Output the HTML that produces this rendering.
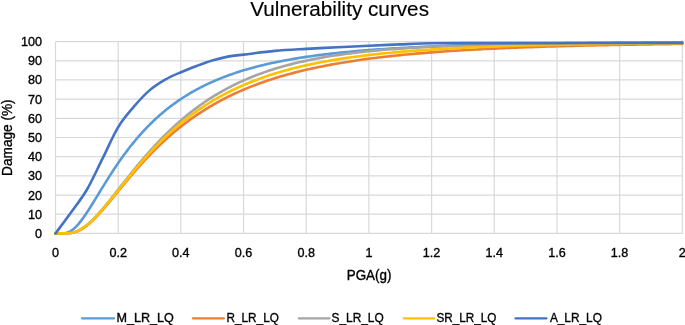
<!DOCTYPE html>
<html><head><meta charset="utf-8"><style>
html,body{margin:0;padding:0;background:#fff;width:685px;height:325px;overflow:hidden;}
svg{display:block;will-change:transform;}
text{font-family:"Liberation Sans", sans-serif;stroke:#000;stroke-width:0.35px;}
</style></head><body>
<svg width="685" height="325" viewBox="0 0 685 325" font-family='"Liberation Sans", sans-serif' fill="#000"><line x1="55.50" y1="233.40" x2="682.30" y2="233.40" stroke="#d9d9d9" stroke-width="1.2"/>
<line x1="55.50" y1="214.22" x2="682.30" y2="214.22" stroke="#d9d9d9" stroke-width="1.2"/>
<line x1="55.50" y1="195.04" x2="682.30" y2="195.04" stroke="#d9d9d9" stroke-width="1.2"/>
<line x1="55.50" y1="175.86" x2="682.30" y2="175.86" stroke="#d9d9d9" stroke-width="1.2"/>
<line x1="55.50" y1="156.68" x2="682.30" y2="156.68" stroke="#d9d9d9" stroke-width="1.2"/>
<line x1="55.50" y1="137.50" x2="682.30" y2="137.50" stroke="#d9d9d9" stroke-width="1.2"/>
<line x1="55.50" y1="118.32" x2="682.30" y2="118.32" stroke="#d9d9d9" stroke-width="1.2"/>
<line x1="55.50" y1="99.14" x2="682.30" y2="99.14" stroke="#d9d9d9" stroke-width="1.2"/>
<line x1="55.50" y1="79.96" x2="682.30" y2="79.96" stroke="#d9d9d9" stroke-width="1.2"/>
<line x1="55.50" y1="60.78" x2="682.30" y2="60.78" stroke="#d9d9d9" stroke-width="1.2"/>
<line x1="55.50" y1="41.60" x2="682.30" y2="41.60" stroke="#d9d9d9" stroke-width="1.2"/>
<line x1="55.50" y1="41.60" x2="55.50" y2="233.40" stroke="#d9d9d9" stroke-width="1.2"/>
<line x1="118.18" y1="41.60" x2="118.18" y2="233.40" stroke="#d9d9d9" stroke-width="1.2"/>
<line x1="180.86" y1="41.60" x2="180.86" y2="233.40" stroke="#d9d9d9" stroke-width="1.2"/>
<line x1="243.54" y1="41.60" x2="243.54" y2="233.40" stroke="#d9d9d9" stroke-width="1.2"/>
<line x1="306.22" y1="41.60" x2="306.22" y2="233.40" stroke="#d9d9d9" stroke-width="1.2"/>
<line x1="368.90" y1="41.60" x2="368.90" y2="233.40" stroke="#d9d9d9" stroke-width="1.2"/>
<line x1="431.58" y1="41.60" x2="431.58" y2="233.40" stroke="#d9d9d9" stroke-width="1.2"/>
<line x1="494.26" y1="41.60" x2="494.26" y2="233.40" stroke="#d9d9d9" stroke-width="1.2"/>
<line x1="556.94" y1="41.60" x2="556.94" y2="233.40" stroke="#d9d9d9" stroke-width="1.2"/>
<line x1="619.62" y1="41.60" x2="619.62" y2="233.40" stroke="#d9d9d9" stroke-width="1.2"/>
<line x1="682.30" y1="41.60" x2="682.30" y2="233.40" stroke="#d9d9d9" stroke-width="1.2"/>
<path d="M55.50,233.40 L56.28,233.40 L57.07,233.40 L57.85,233.40 L58.63,233.40 L59.42,233.40 L60.20,233.40 L60.98,233.39 L61.77,233.37 L62.55,233.34 L63.34,233.29 L64.12,233.22 L64.90,233.11 L65.69,232.97 L66.47,232.78 L67.25,232.56 L68.04,232.28 L68.82,231.96 L69.60,231.59 L70.39,231.16 L71.17,230.69 L71.95,230.16 L72.74,229.59 L73.52,228.96 L74.30,228.29 L75.09,227.57 L75.87,226.81 L76.65,226.01 L77.44,225.16 L78.22,224.28 L79.00,223.36 L79.79,222.40 L80.57,221.42 L81.36,220.40 L82.14,219.35 L82.92,218.28 L83.71,217.19 L84.49,216.07 L85.27,214.93 L86.06,213.77 L86.84,212.59 L87.62,211.40 L88.41,210.19 L89.19,208.97 L89.97,207.74 L90.76,206.50 L91.54,205.25 L92.32,203.99 L93.11,202.73 L93.89,201.46 L94.67,200.18 L95.46,198.91 L96.24,197.62 L97.03,196.34 L97.81,195.06 L98.59,193.77 L99.38,192.49 L100.16,191.21 L100.94,189.93 L101.73,188.65 L102.51,187.38 L103.29,186.11 L104.08,184.84 L104.86,183.58 L105.64,182.32 L106.43,181.06 L107.21,179.82 L107.99,178.58 L108.78,177.34 L109.56,176.11 L110.34,174.89 L111.13,173.68 L111.91,172.47 L112.70,171.27 L113.48,170.08 L114.26,168.89 L115.05,167.72 L115.83,166.55 L116.61,165.39 L117.40,164.24 L118.18,163.10 L118.96,161.97 L119.75,160.84 L120.53,159.73 L121.31,158.62 L122.10,157.52 L122.88,156.44 L123.66,155.36 L124.45,154.29 L125.23,153.23 L126.02,152.17 L126.80,151.13 L127.58,150.10 L128.37,149.07 L129.15,148.06 L129.93,147.05 L130.72,146.06 L131.50,145.07 L132.28,144.09 L133.07,143.12 L133.85,142.16 L134.63,141.21 L135.42,140.27 L136.20,139.34 L136.98,138.41 L137.77,137.50 L138.55,136.59 L139.33,135.69 L140.12,134.81 L140.90,133.93 L141.69,133.05 L142.47,132.19 L143.25,131.34 L144.04,130.49 L144.82,129.65 L145.60,128.82 L146.39,128.00 L147.17,127.19 L147.95,126.39 L148.74,125.59 L149.52,124.80 L150.30,124.02 L151.09,123.25 L151.87,122.48 L152.65,121.73 L153.44,120.98 L154.22,120.23 L155.00,119.50 L155.79,118.77 L156.57,118.05 L157.35,117.34 L158.14,116.64 L158.92,115.94 L159.71,115.25 L160.49,114.56 L161.27,113.89 L162.06,113.22 L162.84,112.56 L163.62,111.90 L164.41,111.25 L165.19,110.61 L165.97,109.97 L166.76,109.34 L167.54,108.72 L168.32,108.10 L169.11,107.49 L169.89,106.89 L170.67,106.29 L171.46,105.70 L172.24,105.11 L173.02,104.53 L173.81,103.96 L174.59,103.39 L175.38,102.83 L176.16,102.27 L176.94,101.72 L177.73,101.17 L178.51,100.63 L179.29,100.10 L180.08,99.57 L180.86,99.05 L181.64,98.53 L182.43,98.02 L183.21,97.51 L183.99,97.00 L184.78,96.51 L185.56,96.02 L186.34,95.53 L187.13,95.05 L187.91,94.57 L188.69,94.09 L189.48,93.63 L190.26,93.16 L191.05,92.70 L191.83,92.25 L192.61,91.80 L193.40,91.36 L194.18,90.92 L194.96,90.48 L195.75,90.05 L196.53,89.62 L197.31,89.20 L198.10,88.78 L198.88,88.36 L199.66,87.95 L200.45,87.55 L201.23,87.14 L202.01,86.75 L202.80,86.35 L203.58,85.96 L204.37,85.57 L205.15,85.19 L205.93,84.81 L206.72,84.44 L207.50,84.07 L208.28,83.70 L209.07,83.33 L209.85,82.97 L210.63,82.62 L211.42,82.26 L212.20,81.91 L212.98,81.57 L213.77,81.22 L214.55,80.88 L215.33,80.55 L216.12,80.21 L216.90,79.88 L217.68,79.56 L218.47,79.23 L219.25,78.91 L220.03,78.59 L220.82,78.28 L221.60,77.97 L222.39,77.66 L223.17,77.35 L223.95,77.05 L224.74,76.75 L225.52,76.46 L226.30,76.16 L227.09,75.87 L227.87,75.58 L228.65,75.30 L229.44,75.01 L230.22,74.73 L231.00,74.46 L231.79,74.18 L232.57,73.91 L233.35,73.64 L234.14,73.37 L234.92,73.11 L235.71,72.85 L236.49,72.59 L237.27,72.33 L238.06,72.08 L238.84,71.82 L239.62,71.57 L240.41,71.33 L241.19,71.08 L241.97,70.84 L242.76,70.60 L243.54,70.36 L246.67,69.43 L249.81,68.53 L252.94,67.67 L256.08,66.83 L259.21,66.03 L262.34,65.26 L265.48,64.51 L268.61,63.79 L271.75,63.10 L274.88,62.43 L278.01,61.78 L281.15,61.16 L284.28,60.56 L287.42,59.98 L290.55,59.41 L293.68,58.87 L296.82,58.35 L299.95,57.84 L303.09,57.36 L306.22,56.88 L309.35,56.43 L312.49,55.99 L315.62,55.56 L318.76,55.15 L321.89,54.75 L325.02,54.36 L328.16,53.99 L331.29,53.63 L334.43,53.28 L337.56,52.94 L340.69,52.62 L343.83,52.30 L346.96,51.99 L350.10,51.70 L353.23,51.41 L356.36,51.13 L359.50,50.86 L362.63,50.60 L365.77,50.35 L368.90,50.10 L372.03,49.86 L375.17,49.63 L378.30,49.41 L381.44,49.19 L384.57,48.98 L387.70,48.78 L390.84,48.58 L393.97,48.39 L397.11,48.21 L400.24,48.02 L403.37,47.85 L406.51,47.68 L409.64,47.51 L412.78,47.35 L415.91,47.20 L419.04,47.05 L422.18,46.90 L425.31,46.76 L428.45,46.62 L431.58,46.49 L434.71,46.36 L437.85,46.23 L440.98,46.11 L444.12,45.99 L447.25,45.87 L450.38,45.76 L453.52,45.65 L456.65,45.54 L459.79,45.44 L462.92,45.34 L466.05,45.24 L469.19,45.15 L472.32,45.05 L475.46,44.96 L478.59,44.87 L481.72,44.79 L484.86,44.71 L487.99,44.63 L491.13,44.55 L494.26,44.47 L497.39,44.40 L500.53,44.32 L503.66,44.25 L506.80,44.18 L509.93,44.12 L513.06,44.05 L516.20,43.99 L519.33,43.93 L522.47,43.87 L525.60,43.81 L528.73,43.75 L531.87,43.70 L535.00,43.64 L538.14,43.59 L541.27,43.54 L544.40,43.49 L547.54,43.44 L550.67,43.39 L553.81,43.35 L556.94,43.30 L560.07,43.26 L563.21,43.21 L566.34,43.17 L569.48,43.13 L572.61,43.09 L575.74,43.05 L578.88,43.02 L582.01,42.98 L585.15,42.94 L588.28,42.91 L591.41,42.87 L594.55,42.84 L597.68,42.81 L600.82,42.78 L603.95,42.75 L607.08,42.72 L610.22,42.69 L613.35,42.66 L616.49,42.63 L619.62,42.60 L622.75,42.58 L625.89,42.55 L629.02,42.52 L632.16,42.50 L635.29,42.47 L638.42,42.45 L641.56,42.43 L644.69,42.41 L647.83,42.38 L650.96,42.36 L654.09,42.34 L657.23,42.32 L660.36,42.30 L663.50,42.28 L666.63,42.26 L669.76,42.24 L672.90,42.22 L676.03,42.21 L679.17,42.19 L682.30,42.17" fill="none" stroke="#5B9BD5" stroke-width="2.6" stroke-linejoin="round" stroke-linecap="round"/>
<path d="M55.50,233.40 L56.28,233.40 L57.07,233.40 L57.85,233.40 L58.63,233.40 L59.42,233.40 L60.20,233.40 L60.98,233.40 L61.77,233.40 L62.55,233.40 L63.34,233.39 L64.12,233.39 L64.90,233.38 L65.69,233.36 L66.47,233.34 L67.25,233.31 L68.04,233.26 L68.82,233.21 L69.60,233.13 L70.39,233.04 L71.17,232.93 L71.95,232.80 L72.74,232.65 L73.52,232.47 L74.30,232.27 L75.09,232.05 L75.87,231.80 L76.65,231.53 L77.44,231.22 L78.22,230.90 L79.00,230.54 L79.79,230.16 L80.57,229.75 L81.36,229.32 L82.14,228.86 L82.92,228.38 L83.71,227.87 L84.49,227.34 L85.27,226.78 L86.06,226.20 L86.84,225.60 L87.62,224.98 L88.41,224.33 L89.19,223.67 L89.97,222.99 L90.76,222.29 L91.54,221.57 L92.32,220.83 L93.11,220.08 L93.89,219.31 L94.67,218.53 L95.46,217.73 L96.24,216.93 L97.03,216.10 L97.81,215.27 L98.59,214.42 L99.38,213.57 L100.16,212.70 L100.94,211.83 L101.73,210.94 L102.51,210.05 L103.29,209.15 L104.08,208.24 L104.86,207.33 L105.64,206.41 L106.43,205.49 L107.21,204.56 L107.99,203.62 L108.78,202.69 L109.56,201.74 L110.34,200.80 L111.13,199.85 L111.91,198.90 L112.70,197.95 L113.48,196.99 L114.26,196.04 L115.05,195.08 L115.83,194.13 L116.61,193.17 L117.40,192.21 L118.18,191.25 L118.96,190.30 L119.75,189.34 L120.53,188.39 L121.31,187.43 L122.10,186.48 L122.88,185.53 L123.66,184.58 L124.45,183.64 L125.23,182.69 L126.02,181.75 L126.80,180.81 L127.58,179.87 L128.37,178.94 L129.15,178.01 L129.93,177.08 L130.72,176.16 L131.50,175.24 L132.28,174.32 L133.07,173.41 L133.85,172.50 L134.63,171.59 L135.42,170.69 L136.20,169.79 L136.98,168.90 L137.77,168.01 L138.55,167.13 L139.33,166.25 L140.12,165.37 L140.90,164.50 L141.69,163.63 L142.47,162.77 L143.25,161.91 L144.04,161.06 L144.82,160.21 L145.60,159.37 L146.39,158.53 L147.17,157.70 L147.95,156.87 L148.74,156.05 L149.52,155.23 L150.30,154.42 L151.09,153.61 L151.87,152.81 L152.65,152.01 L153.44,151.21 L154.22,150.43 L155.00,149.64 L155.79,148.86 L156.57,148.09 L157.35,147.32 L158.14,146.56 L158.92,145.80 L159.71,145.05 L160.49,144.30 L161.27,143.56 L162.06,142.82 L162.84,142.09 L163.62,141.36 L164.41,140.64 L165.19,139.93 L165.97,139.21 L166.76,138.51 L167.54,137.80 L168.32,137.11 L169.11,136.42 L169.89,135.73 L170.67,135.05 L171.46,134.37 L172.24,133.70 L173.02,133.03 L173.81,132.37 L174.59,131.71 L175.38,131.06 L176.16,130.41 L176.94,129.76 L177.73,129.13 L178.51,128.49 L179.29,127.86 L180.08,127.24 L180.86,126.62 L181.64,126.00 L182.43,125.39 L183.21,124.79 L183.99,124.18 L184.78,123.59 L185.56,123.00 L186.34,122.41 L187.13,121.82 L187.91,121.24 L188.69,120.67 L189.48,120.10 L190.26,119.53 L191.05,118.97 L191.83,118.41 L192.61,117.86 L193.40,117.31 L194.18,116.77 L194.96,116.23 L195.75,115.69 L196.53,115.16 L197.31,114.63 L198.10,114.11 L198.88,113.59 L199.66,113.07 L200.45,112.56 L201.23,112.05 L202.01,111.54 L202.80,111.04 L203.58,110.55 L204.37,110.05 L205.15,109.57 L205.93,109.08 L206.72,108.60 L207.50,108.12 L208.28,107.65 L209.07,107.18 L209.85,106.71 L210.63,106.25 L211.42,105.79 L212.20,105.33 L212.98,104.88 L213.77,104.43 L214.55,103.99 L215.33,103.54 L216.12,103.11 L216.90,102.67 L217.68,102.24 L218.47,101.81 L219.25,101.39 L220.03,100.96 L220.82,100.55 L221.60,100.13 L222.39,99.72 L223.17,99.31 L223.95,98.90 L224.74,98.50 L225.52,98.10 L226.30,97.71 L227.09,97.31 L227.87,96.92 L228.65,96.54 L229.44,96.15 L230.22,95.77 L231.00,95.39 L231.79,95.02 L232.57,94.65 L233.35,94.28 L234.14,93.91 L234.92,93.55 L235.71,93.18 L236.49,92.83 L237.27,92.47 L238.06,92.12 L238.84,91.77 L239.62,91.42 L240.41,91.08 L241.19,90.73 L241.97,90.40 L242.76,90.06 L243.54,89.73 L246.67,88.41 L249.81,87.14 L252.94,85.91 L256.08,84.72 L259.21,83.56 L262.34,82.43 L265.48,81.34 L268.61,80.29 L271.75,79.26 L274.88,78.27 L278.01,77.30 L281.15,76.36 L284.28,75.45 L287.42,74.57 L290.55,73.72 L293.68,72.88 L296.82,72.08 L299.95,71.29 L303.09,70.53 L306.22,69.79 L309.35,69.08 L312.49,68.38 L315.62,67.70 L318.76,67.05 L321.89,66.41 L325.02,65.79 L328.16,65.19 L331.29,64.60 L334.43,64.03 L337.56,63.48 L340.69,62.94 L343.83,62.42 L346.96,61.91 L350.10,61.42 L353.23,60.94 L356.36,60.47 L359.50,60.02 L362.63,59.58 L365.77,59.15 L368.90,58.73 L372.03,58.32 L375.17,57.93 L378.30,57.54 L381.44,57.17 L384.57,56.80 L387.70,56.45 L390.84,56.11 L393.97,55.77 L397.11,55.44 L400.24,55.12 L403.37,54.81 L406.51,54.51 L409.64,54.22 L412.78,53.93 L415.91,53.66 L419.04,53.38 L422.18,53.12 L425.31,52.86 L428.45,52.61 L431.58,52.37 L434.71,52.13 L437.85,51.90 L440.98,51.67 L444.12,51.45 L447.25,51.24 L450.38,51.03 L453.52,50.82 L456.65,50.63 L459.79,50.43 L462.92,50.24 L466.05,50.06 L469.19,49.88 L472.32,49.70 L475.46,49.53 L478.59,49.37 L481.72,49.20 L484.86,49.05 L487.99,48.89 L491.13,48.74 L494.26,48.59 L497.39,48.45 L500.53,48.31 L503.66,48.17 L506.80,48.04 L509.93,47.91 L513.06,47.78 L516.20,47.66 L519.33,47.54 L522.47,47.42 L525.60,47.30 L528.73,47.19 L531.87,47.08 L535.00,46.97 L538.14,46.87 L541.27,46.77 L544.40,46.67 L547.54,46.57 L550.67,46.47 L553.81,46.38 L556.94,46.29 L560.07,46.20 L563.21,46.11 L566.34,46.03 L569.48,45.95 L572.61,45.87 L575.74,45.79 L578.88,45.71 L582.01,45.63 L585.15,45.56 L588.28,45.49 L591.41,45.42 L594.55,45.35 L597.68,45.28 L600.82,45.22 L603.95,45.15 L607.08,45.09 L610.22,45.03 L613.35,44.97 L616.49,44.91 L619.62,44.85 L622.75,44.80 L625.89,44.74 L629.02,44.69 L632.16,44.63 L635.29,44.58 L638.42,44.53 L641.56,44.48 L644.69,44.44 L647.83,44.39 L650.96,44.34 L654.09,44.30 L657.23,44.25 L660.36,44.21 L663.50,44.17 L666.63,44.13 L669.76,44.09 L672.90,44.05 L676.03,44.01 L679.17,43.97 L682.30,43.94" fill="none" stroke="#ED7D31" stroke-width="2.6" stroke-linejoin="round" stroke-linecap="round"/>
<path d="M55.50,233.40 L56.28,233.40 L57.07,233.40 L57.85,233.40 L58.63,233.40 L59.42,233.40 L60.20,233.40 L60.98,233.40 L61.77,233.40 L62.55,233.40 L63.34,233.39 L64.12,233.39 L64.90,233.38 L65.69,233.36 L66.47,233.33 L67.25,233.29 L68.04,233.24 L68.82,233.17 L69.60,233.09 L70.39,232.98 L71.17,232.86 L71.95,232.71 L72.74,232.54 L73.52,232.34 L74.30,232.12 L75.09,231.87 L75.87,231.60 L76.65,231.30 L77.44,230.97 L78.22,230.61 L79.00,230.23 L79.79,229.82 L80.57,229.39 L81.36,228.93 L82.14,228.44 L82.92,227.93 L83.71,227.40 L84.49,226.84 L85.27,226.25 L86.06,225.65 L86.84,225.02 L87.62,224.38 L88.41,223.71 L89.19,223.02 L89.97,222.32 L90.76,221.59 L91.54,220.85 L92.32,220.09 L93.11,219.32 L93.89,218.53 L94.67,217.73 L95.46,216.91 L96.24,216.08 L97.03,215.23 L97.81,214.38 L98.59,213.51 L99.38,212.63 L100.16,211.74 L100.94,210.85 L101.73,209.94 L102.51,209.02 L103.29,208.10 L104.08,207.17 L104.86,206.23 L105.64,205.29 L106.43,204.34 L107.21,203.38 L107.99,202.42 L108.78,201.45 L109.56,200.48 L110.34,199.51 L111.13,198.53 L111.91,197.55 L112.70,196.57 L113.48,195.58 L114.26,194.59 L115.05,193.60 L115.83,192.61 L116.61,191.62 L117.40,190.62 L118.18,189.63 L118.96,188.63 L119.75,187.64 L120.53,186.64 L121.31,185.65 L122.10,184.65 L122.88,183.66 L123.66,182.67 L124.45,181.68 L125.23,180.69 L126.02,179.70 L126.80,178.71 L127.58,177.73 L128.37,176.75 L129.15,175.77 L129.93,174.79 L130.72,173.81 L131.50,172.84 L132.28,171.87 L133.07,170.91 L133.85,169.94 L134.63,168.98 L135.42,168.03 L136.20,167.07 L136.98,166.12 L137.77,165.18 L138.55,164.24 L139.33,163.30 L140.12,162.37 L140.90,161.43 L141.69,160.51 L142.47,159.59 L143.25,158.67 L144.04,157.76 L144.82,156.85 L145.60,155.94 L146.39,155.04 L147.17,154.15 L147.95,153.26 L148.74,152.37 L149.52,151.49 L150.30,150.62 L151.09,149.74 L151.87,148.88 L152.65,148.02 L153.44,147.16 L154.22,146.31 L155.00,145.46 L155.79,144.62 L156.57,143.78 L157.35,142.95 L158.14,142.12 L158.92,141.30 L159.71,140.48 L160.49,139.67 L161.27,138.87 L162.06,138.06 L162.84,137.27 L163.62,136.48 L164.41,135.69 L165.19,134.91 L165.97,134.14 L166.76,133.37 L167.54,132.60 L168.32,131.84 L169.11,131.09 L169.89,130.34 L170.67,129.59 L171.46,128.85 L172.24,128.12 L173.02,127.39 L173.81,126.67 L174.59,125.95 L175.38,125.23 L176.16,124.53 L176.94,123.82 L177.73,123.12 L178.51,122.43 L179.29,121.74 L180.08,121.06 L180.86,120.38 L181.64,119.71 L182.43,119.04 L183.21,118.38 L183.99,117.72 L184.78,117.07 L185.56,116.42 L186.34,115.77 L187.13,115.14 L187.91,114.50 L188.69,113.87 L189.48,113.25 L190.26,112.63 L191.05,112.02 L191.83,111.41 L192.61,110.80 L193.40,110.20 L194.18,109.61 L194.96,109.02 L195.75,108.43 L196.53,107.85 L197.31,107.27 L198.10,106.70 L198.88,106.14 L199.66,105.57 L200.45,105.01 L201.23,104.46 L202.01,103.91 L202.80,103.37 L203.58,102.83 L204.37,102.29 L205.15,101.76 L205.93,101.23 L206.72,100.71 L207.50,100.19 L208.28,99.67 L209.07,99.16 L209.85,98.66 L210.63,98.16 L211.42,97.66 L212.20,97.16 L212.98,96.67 L213.77,96.19 L214.55,95.71 L215.33,95.23 L216.12,94.76 L216.90,94.29 L217.68,93.82 L218.47,93.36 L219.25,92.90 L220.03,92.45 L220.82,92.00 L221.60,91.55 L222.39,91.11 L223.17,90.67 L223.95,90.24 L224.74,89.81 L225.52,89.38 L226.30,88.96 L227.09,88.54 L227.87,88.12 L228.65,87.71 L229.44,87.30 L230.22,86.89 L231.00,86.49 L231.79,86.09 L232.57,85.69 L233.35,85.30 L234.14,84.91 L234.92,84.53 L235.71,84.15 L236.49,83.77 L237.27,83.39 L238.06,83.02 L238.84,82.65 L239.62,82.29 L240.41,81.93 L241.19,81.57 L241.97,81.21 L242.76,80.86 L243.54,80.51 L246.67,79.14 L249.81,77.82 L252.94,76.55 L256.08,75.32 L259.21,74.13 L262.34,72.99 L265.48,71.89 L268.61,70.82 L271.75,69.80 L274.88,68.81 L278.01,67.85 L281.15,66.93 L284.28,66.05 L287.42,65.19 L290.55,64.37 L293.68,63.58 L296.82,62.81 L299.95,62.08 L303.09,61.37 L306.22,60.68 L309.35,60.03 L312.49,59.39 L315.62,58.78 L318.76,58.19 L321.89,57.63 L325.02,57.08 L328.16,56.55 L331.29,56.05 L334.43,55.56 L337.56,55.09 L340.69,54.64 L343.83,54.20 L346.96,53.78 L350.10,53.38 L353.23,52.99 L356.36,52.62 L359.50,52.25 L362.63,51.91 L365.77,51.57 L368.90,51.25 L372.03,50.94 L375.17,50.64 L378.30,50.36 L381.44,50.08 L384.57,49.82 L387.70,49.56 L390.84,49.31 L393.97,49.08 L397.11,48.85 L400.24,48.63 L403.37,48.42 L406.51,48.21 L409.64,48.02 L412.78,47.83 L415.91,47.65 L419.04,47.47 L422.18,47.31 L425.31,47.14 L428.45,46.99 L431.58,46.84 L434.71,46.69 L437.85,46.56 L440.98,46.42 L444.12,46.29 L447.25,46.17 L450.38,46.05 L453.52,45.94 L456.65,45.83 L459.79,45.72 L462.92,45.62 L466.05,45.52 L469.19,45.43 L472.32,45.33 L475.46,45.25 L478.59,45.16 L481.72,45.08 L484.86,45.00 L487.99,44.93 L491.13,44.86 L494.26,44.79 L497.39,44.72 L500.53,44.66 L503.66,44.59 L506.80,44.53 L509.93,44.48 L513.06,44.42 L516.20,44.37 L519.33,44.32 L522.47,44.27 L525.60,44.22 L528.73,44.17 L531.87,44.13 L535.00,44.09 L538.14,44.05 L541.27,44.01 L544.40,43.97 L547.54,43.93 L550.67,43.90 L553.81,43.87 L556.94,43.83 L560.07,43.80 L563.21,43.77 L566.34,43.74 L569.48,43.72 L572.61,43.69 L575.74,43.66 L578.88,43.64 L582.01,43.62 L585.15,43.59 L588.28,43.57 L591.41,43.55 L594.55,43.53 L597.68,43.51 L600.82,43.49 L603.95,43.47 L607.08,43.45 L610.22,43.44 L613.35,43.42 L616.49,43.41 L619.62,43.39 L622.75,43.38 L625.89,43.36 L629.02,43.35 L632.16,43.34 L635.29,43.32 L638.42,43.31 L641.56,43.30 L644.69,43.29 L647.83,43.28 L650.96,43.27 L654.09,43.26 L657.23,43.25 L660.36,43.24 L663.50,43.23 L666.63,43.22 L669.76,43.21 L672.90,43.21 L676.03,43.20 L679.17,43.19 L682.30,43.18" fill="none" stroke="#A5A5A5" stroke-width="2.6" stroke-linejoin="round" stroke-linecap="round"/>
<path d="M55.50,233.40 L56.28,233.40 L57.07,233.40 L57.85,233.40 L58.63,233.40 L59.42,233.40 L60.20,233.40 L60.98,233.40 L61.77,233.40 L62.55,233.39 L63.34,233.39 L64.12,233.38 L64.90,233.36 L65.69,233.34 L66.47,233.30 L67.25,233.26 L68.04,233.20 L68.82,233.13 L69.60,233.04 L70.39,232.93 L71.17,232.80 L71.95,232.65 L72.74,232.48 L73.52,232.28 L74.30,232.06 L75.09,231.82 L75.87,231.55 L76.65,231.25 L77.44,230.93 L78.22,230.59 L79.00,230.21 L79.79,229.82 L80.57,229.40 L81.36,228.95 L82.14,228.48 L82.92,227.98 L83.71,227.46 L84.49,226.92 L85.27,226.36 L86.06,225.77 L86.84,225.16 L87.62,224.53 L88.41,223.88 L89.19,223.22 L89.97,222.53 L90.76,221.82 L91.54,221.10 L92.32,220.36 L93.11,219.61 L93.89,218.83 L94.67,218.05 L95.46,217.25 L96.24,216.43 L97.03,215.61 L97.81,214.77 L98.59,213.92 L99.38,213.06 L100.16,212.19 L100.94,211.31 L101.73,210.42 L102.51,209.52 L103.29,208.61 L104.08,207.69 L104.86,206.77 L105.64,205.84 L106.43,204.91 L107.21,203.97 L107.99,203.02 L108.78,202.07 L109.56,201.12 L110.34,200.16 L111.13,199.20 L111.91,198.23 L112.70,197.26 L113.48,196.29 L114.26,195.32 L115.05,194.35 L115.83,193.37 L116.61,192.40 L117.40,191.42 L118.18,190.44 L118.96,189.46 L119.75,188.49 L120.53,187.51 L121.31,186.53 L122.10,185.56 L122.88,184.58 L123.66,183.61 L124.45,182.64 L125.23,181.67 L126.02,180.70 L126.80,179.73 L127.58,178.77 L128.37,177.80 L129.15,176.85 L129.93,175.89 L130.72,174.94 L131.50,173.99 L132.28,173.04 L133.07,172.09 L133.85,171.15 L134.63,170.22 L135.42,169.28 L136.20,168.35 L136.98,167.43 L137.77,166.51 L138.55,165.59 L139.33,164.68 L140.12,163.77 L140.90,162.86 L141.69,161.96 L142.47,161.07 L143.25,160.17 L144.04,159.29 L144.82,158.41 L145.60,157.53 L146.39,156.66 L147.17,155.79 L147.95,154.92 L148.74,154.07 L149.52,153.21 L150.30,152.37 L151.09,151.52 L151.87,150.68 L152.65,149.85 L153.44,149.02 L154.22,148.20 L155.00,147.38 L155.79,146.57 L156.57,145.76 L157.35,144.96 L158.14,144.16 L158.92,143.37 L159.71,142.58 L160.49,141.80 L161.27,141.03 L162.06,140.25 L162.84,139.49 L163.62,138.73 L164.41,137.97 L165.19,137.22 L165.97,136.48 L166.76,135.74 L167.54,135.00 L168.32,134.27 L169.11,133.55 L169.89,132.83 L170.67,132.11 L171.46,131.41 L172.24,130.70 L173.02,130.00 L173.81,129.31 L174.59,128.62 L175.38,127.94 L176.16,127.26 L176.94,126.59 L177.73,125.92 L178.51,125.25 L179.29,124.59 L180.08,123.94 L180.86,123.29 L181.64,122.65 L182.43,122.01 L183.21,121.38 L183.99,120.75 L184.78,120.12 L185.56,119.50 L186.34,118.89 L187.13,118.28 L187.91,117.67 L188.69,117.07 L189.48,116.48 L190.26,115.89 L191.05,115.30 L191.83,114.72 L192.61,114.14 L193.40,113.57 L194.18,113.00 L194.96,112.44 L195.75,111.88 L196.53,111.32 L197.31,110.77 L198.10,110.22 L198.88,109.68 L199.66,109.15 L200.45,108.61 L201.23,108.08 L202.01,107.56 L202.80,107.04 L203.58,106.52 L204.37,106.01 L205.15,105.50 L205.93,105.00 L206.72,104.50 L207.50,104.00 L208.28,103.51 L209.07,103.02 L209.85,102.54 L210.63,102.06 L211.42,101.58 L212.20,101.11 L212.98,100.64 L213.77,100.18 L214.55,99.72 L215.33,99.26 L216.12,98.81 L216.90,98.36 L217.68,97.91 L218.47,97.47 L219.25,97.03 L220.03,96.59 L220.82,96.16 L221.60,95.73 L222.39,95.31 L223.17,94.89 L223.95,94.47 L224.74,94.06 L225.52,93.65 L226.30,93.24 L227.09,92.84 L227.87,92.44 L228.65,92.04 L229.44,91.64 L230.22,91.25 L231.00,90.87 L231.79,90.48 L232.57,90.10 L233.35,89.72 L234.14,89.35 L234.92,88.98 L235.71,88.61 L236.49,88.24 L237.27,87.88 L238.06,87.52 L238.84,87.16 L239.62,86.81 L240.41,86.46 L241.19,86.11 L241.97,85.76 L242.76,85.42 L243.54,85.08 L246.67,83.75 L249.81,82.47 L252.94,81.22 L256.08,80.02 L259.21,78.85 L262.34,77.73 L265.48,76.64 L268.61,75.59 L271.75,74.57 L274.88,73.58 L278.01,72.63 L281.15,71.70 L284.28,70.81 L287.42,69.94 L290.55,69.11 L293.68,68.30 L296.82,67.52 L299.95,66.76 L303.09,66.02 L306.22,65.31 L309.35,64.63 L312.49,63.96 L315.62,63.32 L318.76,62.70 L321.89,62.09 L325.02,61.51 L328.16,60.94 L331.29,60.39 L334.43,59.86 L337.56,59.35 L340.69,58.85 L343.83,58.37 L346.96,57.90 L350.10,57.45 L353.23,57.01 L356.36,56.59 L359.50,56.18 L362.63,55.78 L365.77,55.39 L368.90,55.02 L372.03,54.66 L375.17,54.31 L378.30,53.97 L381.44,53.64 L384.57,53.32 L387.70,53.01 L390.84,52.70 L393.97,52.41 L397.11,52.13 L400.24,51.86 L403.37,51.59 L406.51,51.33 L409.64,51.08 L412.78,50.84 L415.91,50.60 L419.04,50.38 L422.18,50.15 L425.31,49.94 L428.45,49.73 L431.58,49.53 L434.71,49.33 L437.85,49.14 L440.98,48.96 L444.12,48.78 L447.25,48.60 L450.38,48.44 L453.52,48.27 L456.65,48.11 L459.79,47.96 L462.92,47.81 L466.05,47.66 L469.19,47.52 L472.32,47.38 L475.46,47.25 L478.59,47.12 L481.72,46.99 L484.86,46.87 L487.99,46.75 L491.13,46.64 L494.26,46.52 L497.39,46.42 L500.53,46.31 L503.66,46.21 L506.80,46.11 L509.93,46.01 L513.06,45.92 L516.20,45.82 L519.33,45.74 L522.47,45.65 L525.60,45.56 L528.73,45.48 L531.87,45.40 L535.00,45.33 L538.14,45.25 L541.27,45.18 L544.40,45.11 L547.54,45.04 L550.67,44.97 L553.81,44.90 L556.94,44.84 L560.07,44.78 L563.21,44.72 L566.34,44.66 L569.48,44.60 L572.61,44.55 L575.74,44.49 L578.88,44.44 L582.01,44.39 L585.15,44.34 L588.28,44.29 L591.41,44.25 L594.55,44.20 L597.68,44.16 L600.82,44.11 L603.95,44.07 L607.08,44.03 L610.22,43.99 L613.35,43.95 L616.49,43.91 L619.62,43.88 L622.75,43.84 L625.89,43.80 L629.02,43.77 L632.16,43.74 L635.29,43.70 L638.42,43.67 L641.56,43.64 L644.69,43.61 L647.83,43.58 L650.96,43.56 L654.09,43.53 L657.23,43.50 L660.36,43.48 L663.50,43.45 L666.63,43.43 L669.76,43.40 L672.90,43.38 L676.03,43.35 L679.17,43.33 L682.30,43.31" fill="none" stroke="#FFC000" stroke-width="2.6" stroke-linejoin="round" stroke-linecap="round"/>
<path d="M55.50,233.40 C60.72,226.36 65.95,219.55 71.17,212.27 C76.39,204.99 81.62,198.67 86.84,189.74 C92.06,180.80 97.29,169.08 102.51,158.64 C107.73,148.21 112.96,135.76 118.18,127.11 C123.40,118.45 128.63,112.84 133.85,106.71 C139.07,100.59 144.30,94.89 149.52,90.38 C154.74,85.87 159.97,82.70 165.19,79.67 C170.41,76.64 175.64,74.49 180.86,72.20 C186.08,69.92 191.31,67.92 196.53,65.96 C201.75,64.01 206.98,62.03 212.20,60.47 C217.42,58.91 222.65,57.58 227.87,56.61 C233.09,55.63 238.32,55.26 243.54,54.62 C253.99,53.34 264.43,51.82 274.88,50.86 C285.33,49.90 295.77,49.46 306.22,48.86 C316.67,48.26 327.11,47.77 337.56,47.26 C348.01,46.76 358.45,46.29 368.90,45.81 C379.35,45.33 389.79,44.80 400.24,44.38 C410.69,43.96 421.13,43.43 431.58,43.30 C452.47,43.02 473.37,43.17 494.26,43.14 C515.15,43.11 536.05,43.15 556.94,43.12 C577.83,43.10 598.73,43.04 619.62,43.01 C640.51,42.98 661.41,42.97 682.30,42.94" fill="none" stroke="#4472C4" stroke-width="2.6" stroke-linejoin="round" stroke-linecap="round"/>
<text x="42" y="237.90" text-anchor="end" font-size="12.6">0</text>
<text x="42" y="218.72" text-anchor="end" font-size="12.6">10</text>
<text x="42" y="199.54" text-anchor="end" font-size="12.6">20</text>
<text x="42" y="180.36" text-anchor="end" font-size="12.6">30</text>
<text x="42" y="161.18" text-anchor="end" font-size="12.6">40</text>
<text x="42" y="142.00" text-anchor="end" font-size="12.6">50</text>
<text x="42" y="122.82" text-anchor="end" font-size="12.6">60</text>
<text x="42" y="103.64" text-anchor="end" font-size="12.6">70</text>
<text x="42" y="84.46" text-anchor="end" font-size="12.6">80</text>
<text x="42" y="65.28" text-anchor="end" font-size="12.6">90</text>
<text x="42" y="46.10" text-anchor="end" font-size="12.6">100</text>
<text x="55.50" y="257.0" text-anchor="middle" font-size="12.6">0</text>
<text x="118.18" y="257.0" text-anchor="middle" font-size="12.6">0.2</text>
<text x="180.86" y="257.0" text-anchor="middle" font-size="12.6">0.4</text>
<text x="243.54" y="257.0" text-anchor="middle" font-size="12.6">0.6</text>
<text x="306.22" y="257.0" text-anchor="middle" font-size="12.6">0.8</text>
<text x="368.90" y="257.0" text-anchor="middle" font-size="12.6">1</text>
<text x="431.58" y="257.0" text-anchor="middle" font-size="12.6">1.2</text>
<text x="494.26" y="257.0" text-anchor="middle" font-size="12.6">1.4</text>
<text x="556.94" y="257.0" text-anchor="middle" font-size="12.6">1.6</text>
<text x="619.62" y="257.0" text-anchor="middle" font-size="12.6">1.8</text>
<text x="682.30" y="257.0" text-anchor="middle" font-size="12.6">2</text>
<text x="250.29" y="15.5" font-size="20" style="stroke-width:0.15px" textLength="178.71" lengthAdjust="spacingAndGlyphs">Vulnerability curves</text>
<text x="346.78" y="280.1" font-size="13.8" textLength="44.66" lengthAdjust="spacingAndGlyphs">PGA(g)</text>
<text transform="translate(11.8,0) rotate(-90)" x="-175.92" y="0" font-size="15" textLength="76.55" lengthAdjust="spacingAndGlyphs">Damage (%)</text>
<line x1="82.0" y1="318.3" x2="114.0" y2="318.3" stroke="#5B9BD5" stroke-width="2.3" stroke-linecap="round"/>
<text x="116.46" y="322.1" font-size="12.8" textLength="57.45" lengthAdjust="spacingAndGlyphs">M_LR_LQ</text>
<line x1="192.9" y1="318.3" x2="223.9" y2="318.3" stroke="#ED7D31" stroke-width="2.3" stroke-linecap="round"/>
<text x="226.57" y="322.1" font-size="12.8" textLength="52.24" lengthAdjust="spacingAndGlyphs">R_LR_LQ</text>
<line x1="298.8" y1="318.3" x2="329.5" y2="318.3" stroke="#A5A5A5" stroke-width="2.3" stroke-linecap="round"/>
<text x="331.46" y="322.1" font-size="12.8" textLength="52.26" lengthAdjust="spacingAndGlyphs">S_LR_LQ</text>
<line x1="403.9" y1="318.3" x2="434.1" y2="318.3" stroke="#FFC000" stroke-width="2.3" stroke-linecap="round"/>
<text x="436.46" y="322.1" font-size="12.8" textLength="59.88" lengthAdjust="spacingAndGlyphs">SR_LR_LQ</text>
<line x1="515.5" y1="318.3" x2="546.5" y2="318.3" stroke="#4472C4" stroke-width="2.3" stroke-linecap="round"/>
<text x="549.88" y="322.1" font-size="12.8" textLength="52.04" lengthAdjust="spacingAndGlyphs">A_LR_LQ</text></svg>
</body></html>
